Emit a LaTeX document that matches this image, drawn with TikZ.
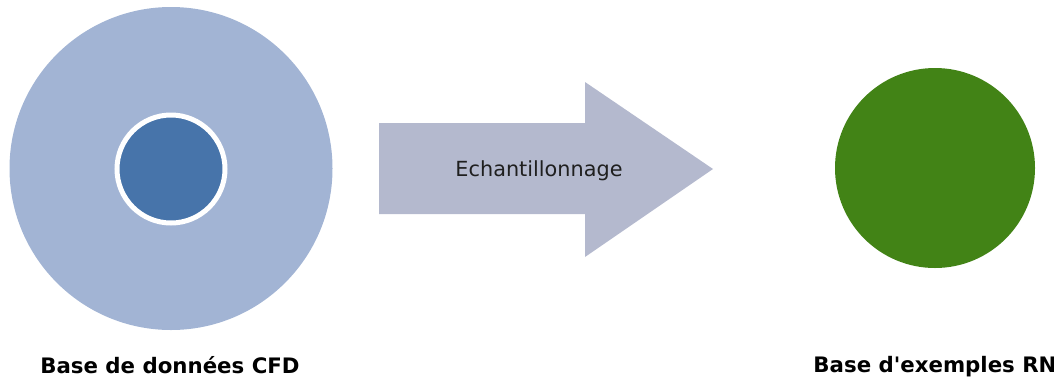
\documentclass[tikz,border=0pt]{standalone}
\usepackage{fontspec}
\setmainfont{DejaVu Sans}
\usepackage{xcolor}
\usepackage{tikz}
\usetikzlibrary{positioning}
\definecolor{cfdouter}{HTML}{A2B4D4}
\definecolor{cfdinner}{HTML}{4774AA}
\definecolor{samplegray}{HTML}{B4B9CE}
\definecolor{rngreen}{HTML}{428316}
\tikzset{
  outerdisc/.style={circle, fill=cfdouter, inner sep=0pt, minimum size=323pt},
  innerdisc/.style={circle, fill=cfdinner, draw=white, line width=5pt, inner sep=0pt, minimum size=108pt},
  rndisc/.style={circle, fill=rngreen, inner sep=0pt, minimum size=200pt},
  blockarrow/.style={fill=samplegray},
  caption/.style={anchor=base, font=\fontsize{21.3}{25}\selectfont\bfseries, text=black, inner sep=0pt},
  arrowtext/.style={anchor=base, font=\fontsize{20.8}{24}\selectfont, text=black!88, inner sep=0pt}
}

\begin{document}
\begin{tikzpicture}[x=1pt,y=-1pt]
  \useasboundingbox (0,0) rectangle (1054,381);

  \node[outerdisc] (cfd) at (171,168.5) {};
  \node[innerdisc] (cfdcore) at (171,169) {};
  \node[caption] (cfdlabel) at (170,373.5) {Base de données CFD};

  \fill[blockarrow] (379,123) -- (585,123) -- (585,82) -- (713,169)
    -- (585,257) -- (585,214) -- (379,214) -- cycle;
  \node[arrowtext] (sampling) at (539,176) {Echantillonnage};

  \node[rndisc] (rn) at (935,168) {};
  \node[caption] (rnlabel) at (935,372) {Base d\textquotesingle exemples RN};
\end{tikzpicture}
\end{document}
